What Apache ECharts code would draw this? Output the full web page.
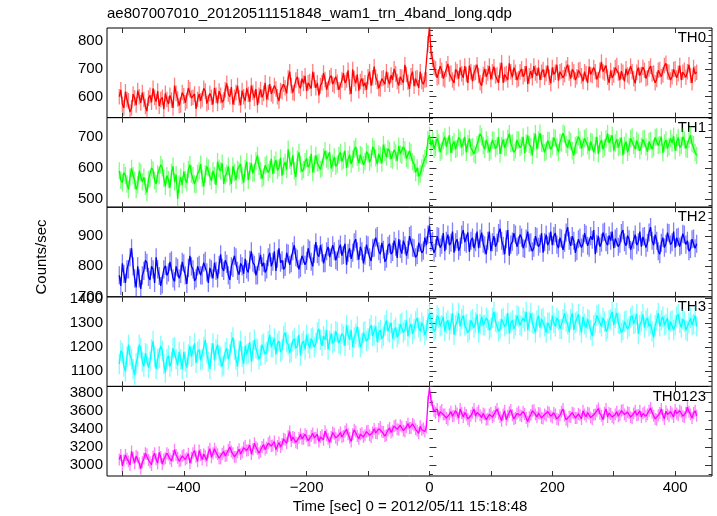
<!DOCTYPE html>
<html>
<head>
<meta charset="utf-8">
<script src="https://cdn.jsdelivr.net/npm/echarts@6/dist/echarts.min.js"></script>
<style>
html,body{margin:0;padding:0;background:#fff;}
#chart{width:717px;height:516px;}
</style>
</head>
<body>
<div id="chart"></div>
<script>
// ---- data (2.5-s bins starting at t = -505 s) ----
const TIME_START = -505;
const BIN = 2.5;

const TH0 = [
600,625,572,560,618,590,585,545,560,610,595,570,622,600,578,615,590,565,548,595,
605,580,630,598,582,620,566,590,598,555,612,590,574,605,588,560,640,612,592,568,
570,615,603,578,585,632,625,595,598,610,556,590,610,585,592,630,620,575,580,612,
598,572,632,605,576,620,605,580,588,625,648,610,600,635,572,598,615,640,596,570,
622,600,585,630,608,582,640,615,595,628,570,605,626,598,612,650,590,615,645,610,
603,640,628,600,585,622,618,645,632,612,668,690,640,615,612,660,672,640,630,665,
648,675,620,650,655,630,690,660,632,650,605,640,650,685,662,625,628,668,676,645,
640,672,652,625,618,660,685,650,660,695,635,610,698,665,648,680,622,655,665,638,
650,625,672,690,640,668,708,670,655,630,628,665,668,645,690,660,645,678,660,700,
682,655,640,672,670,650,715,680,652,628,675,690,638,665,668,632,690,655,645,660,
662,790,850,760,735,705,700,668,672,710,695,665,660,700,718,682,685,660,650,698,
690,665,705,682,668,710,680,650,712,690,655,685,688,715,676,650,640,680,700,672,
685,710,662,690,708,675,678,650,695,722,650,680,683,660,720,690,670,705,688,660,
665,690,700,672,682,710,645,675,692,668,710,685,676,705,660,688,698,670,684,712,
670,648,705,680,688,715,658,690,693,668,680,702,715,685,665,698,690,660,672,695,
698,675,655,690,683,650,708,680,676,705,690,662,660,695,725,690,685,712,670,650,
694,668,678,705,712,685,660,692,688,655,700,678,672,710,690,665,648,688,705,676,
680,706,695,665,668,700,710,682,685,650,662,695,698,672,678,712,720,690,688,660,
672,698,700,668,684,712,660,688,695,670,690,715,676,650,705,682,688
];
const TH1 = [
590,560,552,585,575,548,530,570,598,575,560,530,545,590,585,555,570,540,520,562,
565,600,592,560,548,580,575,610,600,566,540,575,562,535,585,605,555,578,500,548,
570,545,588,562,552,595,610,580,575,548,545,582,590,612,566,540,580,605,600,572,
558,590,575,545,620,598,590,615,548,575,582,605,570,548,605,585,560,595,590,612,
575,552,598,620,560,590,615,582,585,622,640,605,590,565,570,608,612,585,595,630,
580,610,625,592,600,632,575,605,618,595,660,625,605,640,590,570,628,650,612,588,
595,620,630,602,610,645,585,612,640,615,618,595,600,635,655,628,622,650,598,615,
635,605,612,640,650,620,625,655,600,628,642,612,628,660,668,635,615,642,638,610,
620,652,645,618,630,668,660,632,612,645,640,615,675,650,635,662,655,628,625,658,
648,622,670,645,640,668,658,630,625,655,650,620,612,585,600,572,580,600,615,630,
640,690,705,672,690,660,665,695,680,650,655,688,700,668,672,705,648,675,685,660,
662,698,690,665,670,700,650,678,695,665,668,645,640,675,680,710,700,672,660,690,
675,650,655,690,688,662,670,700,645,672,692,665,668,695,710,678,680,650,658,690,
690,665,672,700,648,680,705,675,668,640,685,710,660,690,712,680,678,650,655,688,
688,660,670,698,695,668,650,682,680,712,708,675,665,690,685,655,640,672,675,700,
690,662,668,695,700,672,655,685,683,650,672,700,645,678,690,660,665,692,710,680,
678,705,655,680,692,665,670,698,640,672,685,650,668,695,700,672,660,688,682,655,
670,692,695,668,652,685,688,660,665,698,700,672,675,700,648,680,690,662,668,695,
680,702,655,682,698,665,672,700,690,662,660,692,705,678,675,650,640
];
const TH2 = [
770,735,810,775,745,790,790,830,860,800,760,730,800,760,725,770,785,820,812,765,
755,800,790,745,830,790,768,735,740,790,802,770,780,815,820,760,750,800,795,760,
775,815,810,770,742,795,835,800,790,752,760,800,805,770,770,812,818,780,745,795,
790,760,812,785,760,805,840,795,785,820,808,770,755,800,795,835,830,785,772,810,
800,775,825,790,780,822,850,812,805,770,770,815,838,800,812,780,790,830,845,800,
815,850,785,825,860,812,820,790,798,845,842,805,810,850,870,830,825,790,795,835,
840,805,818,860,855,815,800,842,880,840,832,870,845,810,810,850,865,830,828,870,
850,820,815,858,872,835,838,875,805,845,860,825,845,880,890,850,822,865,850,810,
835,872,870,830,818,860,862,895,900,850,840,878,855,815,825,868,875,840,848,885,
865,828,890,858,842,885,870,835,855,900,905,862,860,830,838,878,880,845,852,895,
870,905,935,880,885,845,860,900,898,862,872,910,850,885,905,870,878,915,845,880,
890,852,865,905,920,880,875,912,848,885,895,860,880,915,860,892,912,875,870,840,
885,915,850,880,900,865,878,910,925,885,868,840,890,920,835,872,882,910,905,865,
870,905,895,860,858,892,915,878,880,850,862,900,898,865,875,910,845,880,905,870,
882,915,870,900,910,872,860,895,892,855,878,912,930,885,868,900,885,845,850,890,
895,862,875,910,905,868,862,900,888,920,840,875,900,865,878,912,915,880,870,902,
885,915,860,892,898,865,875,910,920,880,868,902,890,855,850,888,905,870,880,915,
865,898,900,862,878,912,930,885,870,905,885,850,840,878,895,862,875,912,910,872,
880,915,862,895,898,865,870,908,905,872,885,850,858,890,892,860,875
];
const TH3 = [
1130,1185,1175,1120,1100,1160,1210,1165,1150,1110,1085,1135,1160,1210,1195,1140,1120,1175,1170,1115,
1140,1190,1225,1160,1110,1150,1155,1205,1185,1130,1095,1150,1165,1120,1140,1195,1200,1150,1125,1180,
1150,1110,1180,1140,1115,1170,1205,1160,1165,1215,1135,1180,1190,1145,1150,1200,1230,1175,1140,1110,
1175,1215,1145,1190,1210,1165,1160,1120,1125,1180,1195,1150,1170,1220,1240,1190,1150,1120,1185,1225,
1160,1130,1205,1170,1175,1220,1140,1185,1230,1195,1190,1150,1165,1210,1215,1170,1180,1225,1250,1200,
1200,1235,1170,1215,1225,1180,1190,1245,1260,1220,1210,1175,1180,1225,1235,1195,1205,1250,1165,1215,
1225,1190,1250,1215,1195,1235,1240,1200,1215,1260,1275,1230,1205,1245,1230,1270,1190,1225,1255,1215,
1225,1265,1260,1215,1210,1255,1245,1205,1290,1250,1230,1270,1200,1240,1255,1285,1240,1200,1215,1260,
1265,1225,1235,1275,1290,1245,1250,1285,1220,1260,1270,1235,1245,1290,1310,1265,1260,1300,1235,1270,
1280,1240,1255,1295,1300,1260,1270,1310,1245,1280,1295,1255,1275,1305,1320,1280,1265,1300,1285,1250,
1270,1315,1340,1305,1300,1265,1275,1330,1320,1285,1290,1325,1265,1300,1310,1270,1295,1340,1250,1290,
1305,1340,1285,1315,1330,1290,1295,1260,1270,1310,1315,1280,1300,1335,1260,1295,1325,1290,1290,1320,
1310,1270,1280,1320,1345,1305,1300,1265,1275,1315,1320,1285,1295,1340,1255,1300,1310,1275,1290,1330,
1325,1290,1285,1320,1305,1345,1270,1305,1340,1300,1295,1260,1310,1330,1280,1315,1320,1285,1260,1300,
1300,1270,1330,1300,1285,1320,1310,1275,1275,1315,1340,1305,1295,1260,1315,1340,1270,1300,1305,1335,
1290,1260,1325,1295,1280,1315,1310,1270,1245,1290,1300,1330,1335,1300,1285,1320,1305,1265,1275,1310,
1315,1345,1290,1320,1340,1300,1295,1260,1270,1305,1310,1275,1285,1320,1330,1295,1300,1335,1255,1290,
1305,1335,1280,1310,1320,1285,1295,1265,1240,1290,1310,1340,1285,1310,1325,1290,1295,1320,1270,1305,
1310,1270,1290,1325,1335,1300,1280,1315,1305,1270,1265,1300,1320,1290,1295,1330,1285
];
const TH0123 = [
3060,3110,2990,3050,3110,3070,3040,3000,3150,3080,3020,3100,3085,3020,2960,3030,3070,3130,3120,3055,
3030,3000,3095,3130,3060,3020,3140,3090,3010,3060,3075,3130,3115,3070,3045,3100,3170,3110,3080,3040,
3050,3100,3110,3060,3075,3125,3020,3080,3130,3160,3090,3040,3160,3110,3060,3120,3100,3050,3140,3180,
3085,3130,3180,3140,3120,3075,3070,3125,3150,3100,3105,3165,3200,3150,3130,3090,3090,3140,3175,3120,
3140,3190,3210,3160,3165,3220,3120,3175,3240,3200,3180,3130,3150,3200,3225,3170,3190,3240,3260,3210,
3215,3260,3170,3210,3250,3200,3230,3290,3280,3240,3320,3370,3265,3310,3300,3250,3240,3300,3340,3290,
3290,3340,3320,3270,3270,3320,3350,3300,3300,3340,3260,3310,3330,3280,3375,3330,3290,3250,3310,3360,
3345,3300,3280,3330,3360,3310,3320,3370,3395,3340,3300,3260,3340,3390,3370,3320,3290,3340,3355,3310,
3330,3370,3380,3330,3310,3360,3400,3355,3350,3400,3420,3370,3365,3320,3330,3385,3410,3360,3380,3430,
3440,3395,3390,3440,3425,3380,3370,3420,3460,3410,3410,3455,3440,3395,3380,3350,3430,3390,3405,3370,
3420,3700,3850,3720,3650,3600,3580,3620,3540,3590,3610,3560,3560,3520,3500,3560,3590,3540,3545,3600,
3570,3520,3620,3575,3530,3580,3555,3510,3490,3545,3580,3620,3540,3580,3600,3550,3525,3570,3560,3500,
3510,3560,3575,3530,3545,3590,3620,3570,3530,3490,3560,3600,3500,3545,3585,3610,3550,3510,3520,3570,
3590,3550,3540,3590,3565,3520,3480,3530,3555,3600,3610,3560,3530,3575,3570,3520,3515,3560,3545,3590,
3580,3540,3525,3575,3560,3510,3500,3550,3590,3620,3545,3500,3480,3535,3530,3580,3570,3520,3520,3565,
3555,3510,3600,3560,3535,3580,3570,3525,3510,3555,3560,3600,3625,3570,3545,3500,3580,3620,3530,3575,
3565,3530,3515,3560,3590,3540,3550,3600,3610,3560,3540,3585,3575,3530,3520,3570,3600,3550,3555,3600,
3530,3570,3585,3540,3560,3600,3630,3580,3545,3510,3500,3550,3575,3620,3550,3510,3595,3560,3540,3590,
3570,3530,3610,3570,3550,3600,3585,3540,3530,3580,3640,3590,3560,3520,3575,3600,3545
];

const PANEL_NAMES = ['TH0', 'TH1', 'TH2', 'TH3', 'TH0123'];
const PANEL_DATA = [TH0, TH1, TH2, TH3, TH0123];
const ERRORS = [28, 28, 30, 42, 66];

const X_MIN = -525, X_MAX = 460;
const X_TICKS = [-500, -400, -300, -200, -100, 0, 100, 200, 300, 400];
const X_LABELS = [-400, -200, 0, 200, 400];

const Y_RANGES = [[525, 847], [473, 762], [699, 996], [1038, 1407], [2878, 3870]];
const Y_LABELS = [
  [600, 700, 800],
  [500, 600, 700],
  [700, 800, 900],
  [1100, 1200, 1300, 1400],
  [3000, 3200, 3400, 3600, 3800]
];
const Y_MINOR_STEP = [20, 20, 20, 20, 100];

const TITLE = 'ae807007010_20120511151848_wam1_trn_4band_long.qdp';
const X_NAME = 'Time [sec] 0 = 2012/05/11 15:18:48';
const Y_NAME = 'Counts/sec';

// ---- styling / layout ----
const COLORS = ['#ff0000', '#00ff00', '#0000ff', '#00ffff', '#ff00ff'];
const FONT = "'Liberation Sans', Arial, Helvetica, sans-serif";
const PLOT_LEFT = 107, PLOT_RIGHT_EDGE = 712, PLOT_TOP = 28, PLOT_BOTTOM = 476;
const PANEL_H = (PLOT_BOTTOM - PLOT_TOP) / 5;

const fmtX = v => (v < 0 ? '\u2212' + Math.abs(v) : String(v));
const fmtY = v => String(v);

const grids = [], xAxes = [], yAxes = [], series = [];
for (let k = 0; k < 5; k++) {
  grids.push({
    left: PLOT_LEFT, width: PLOT_RIGHT_EDGE - PLOT_LEFT,
    top: PLOT_TOP + k * PANEL_H, height: PANEL_H,
    show: true, borderColor: '#000', borderWidth: 1, backgroundColor: 'transparent'
  });
  const last = k === 4;
  ['bottom', 'top'].forEach(pos => {
    xAxes.push({
      type: 'value', gridIndex: k, position: pos, min: X_MIN, max: X_MAX,
      axisLine: { show: false },
      splitLine: { show: false },
      axisTick: { show: true, inside: true, length: 5, customValues: X_TICKS,
                  lineStyle: { color: '#333', width: 1 } },
      axisLabel: { show: last && pos === 'bottom', customValues: X_LABELS, formatter: fmtX,
                   fontSize: 15, color: '#000', fontFamily: FONT, margin: 4 }
    });
  });
  const [ymin, ymax] = Y_RANGES[k];
  const minors = [];
  const st = Y_MINOR_STEP[k];
  for (let v = Math.ceil(ymin / st) * st; v <= ymax; v += st) {
    if (Y_LABELS[k].indexOf(v) < 0) minors.push(v);
  }
  ['left', 'right'].forEach(pos => {
    yAxes.push({
      type: 'value', gridIndex: k, position: pos, min: ymin, max: ymax,
      axisLine: { show: false }, splitLine: { show: false },
      axisTick: { show: true, inside: true, length: 7, customValues: Y_LABELS[k],
                  lineStyle: { color: '#333', width: 1 } },
      axisLabel: { show: pos === 'left', customValues: Y_LABELS[k], formatter: fmtY, fontSize: 15,
                   color: '#000', fontFamily: FONT, margin: 4 }
    });
    yAxes.push({
      type: 'value', gridIndex: k, position: pos, min: ymin, max: ymax,
      axisLine: { show: false }, splitLine: { show: false },
      axisTick: { show: true, inside: true, length: 3.5, customValues: minors,
                  lineStyle: { color: '#333', width: 1 } },
      axisLabel: { show: false }
    });
  });
  const pts = PANEL_DATA[k].map((v, i) => [TIME_START + i * BIN, v]);
  const err = ERRORS[k];
  const col = COLORS[k];
  series.push({
    type: 'custom', xAxisIndex: 2 * k, yAxisIndex: 4 * k, data: pts, clip: true,
    silent: true,
    renderItem: (params, api) => {
      const x = api.value(0), y = api.value(1);
      const p1 = api.coord([x, y - err]);
      const p2 = api.coord([x, y + err]);
      return { type: 'line', shape: { x1: p1[0], y1: p1[1], x2: p2[0], y2: p2[1] },
               style: { stroke: col, lineWidth: 1.3, opacity: 0.5 } };
    }
  });
  series.push({
    type: 'line', xAxisIndex: 2 * k, yAxisIndex: 4 * k, data: pts, showSymbol: false,
    symbol: 'none', clip: true, silent: true,
    lineStyle: { color: col, width: 1.3 }
  });
}

const graphics = [
  { type: 'text', left: PLOT_LEFT, top: 6, style: { text: TITLE, fontSize: 15, fontFamily: FONT, fill: '#000' } },
  { type: 'text', x: 410, y: 507, style: { text: X_NAME, fontSize: 15, fontFamily: FONT, fill: '#000', align: 'center', verticalAlign: 'middle' } },
  { type: 'text', x: 42, y: 257, rotation: Math.PI / 2, style: { text: Y_NAME, fontSize: 15, fontFamily: FONT, fill: '#000', align: 'center', verticalAlign: 'middle' } }
];
PANEL_NAMES.forEach((n, k) => {
  graphics.push({ type: 'text', x: 706, y: PLOT_TOP + k * PANEL_H + 10,
    style: { text: n, fontSize: 15, fontFamily: FONT, fill: '#000', align: 'right', verticalAlign: 'middle' } });
});

const chart = echarts.init(document.getElementById('chart'), null, { renderer: 'canvas' });
chart.setOption({
  animation: false,
  backgroundColor: '#fff',
  grid: grids, xAxis: xAxes, yAxis: yAxes, series: series,
  graphic: graphics
});
</script>
</body>
</html>
